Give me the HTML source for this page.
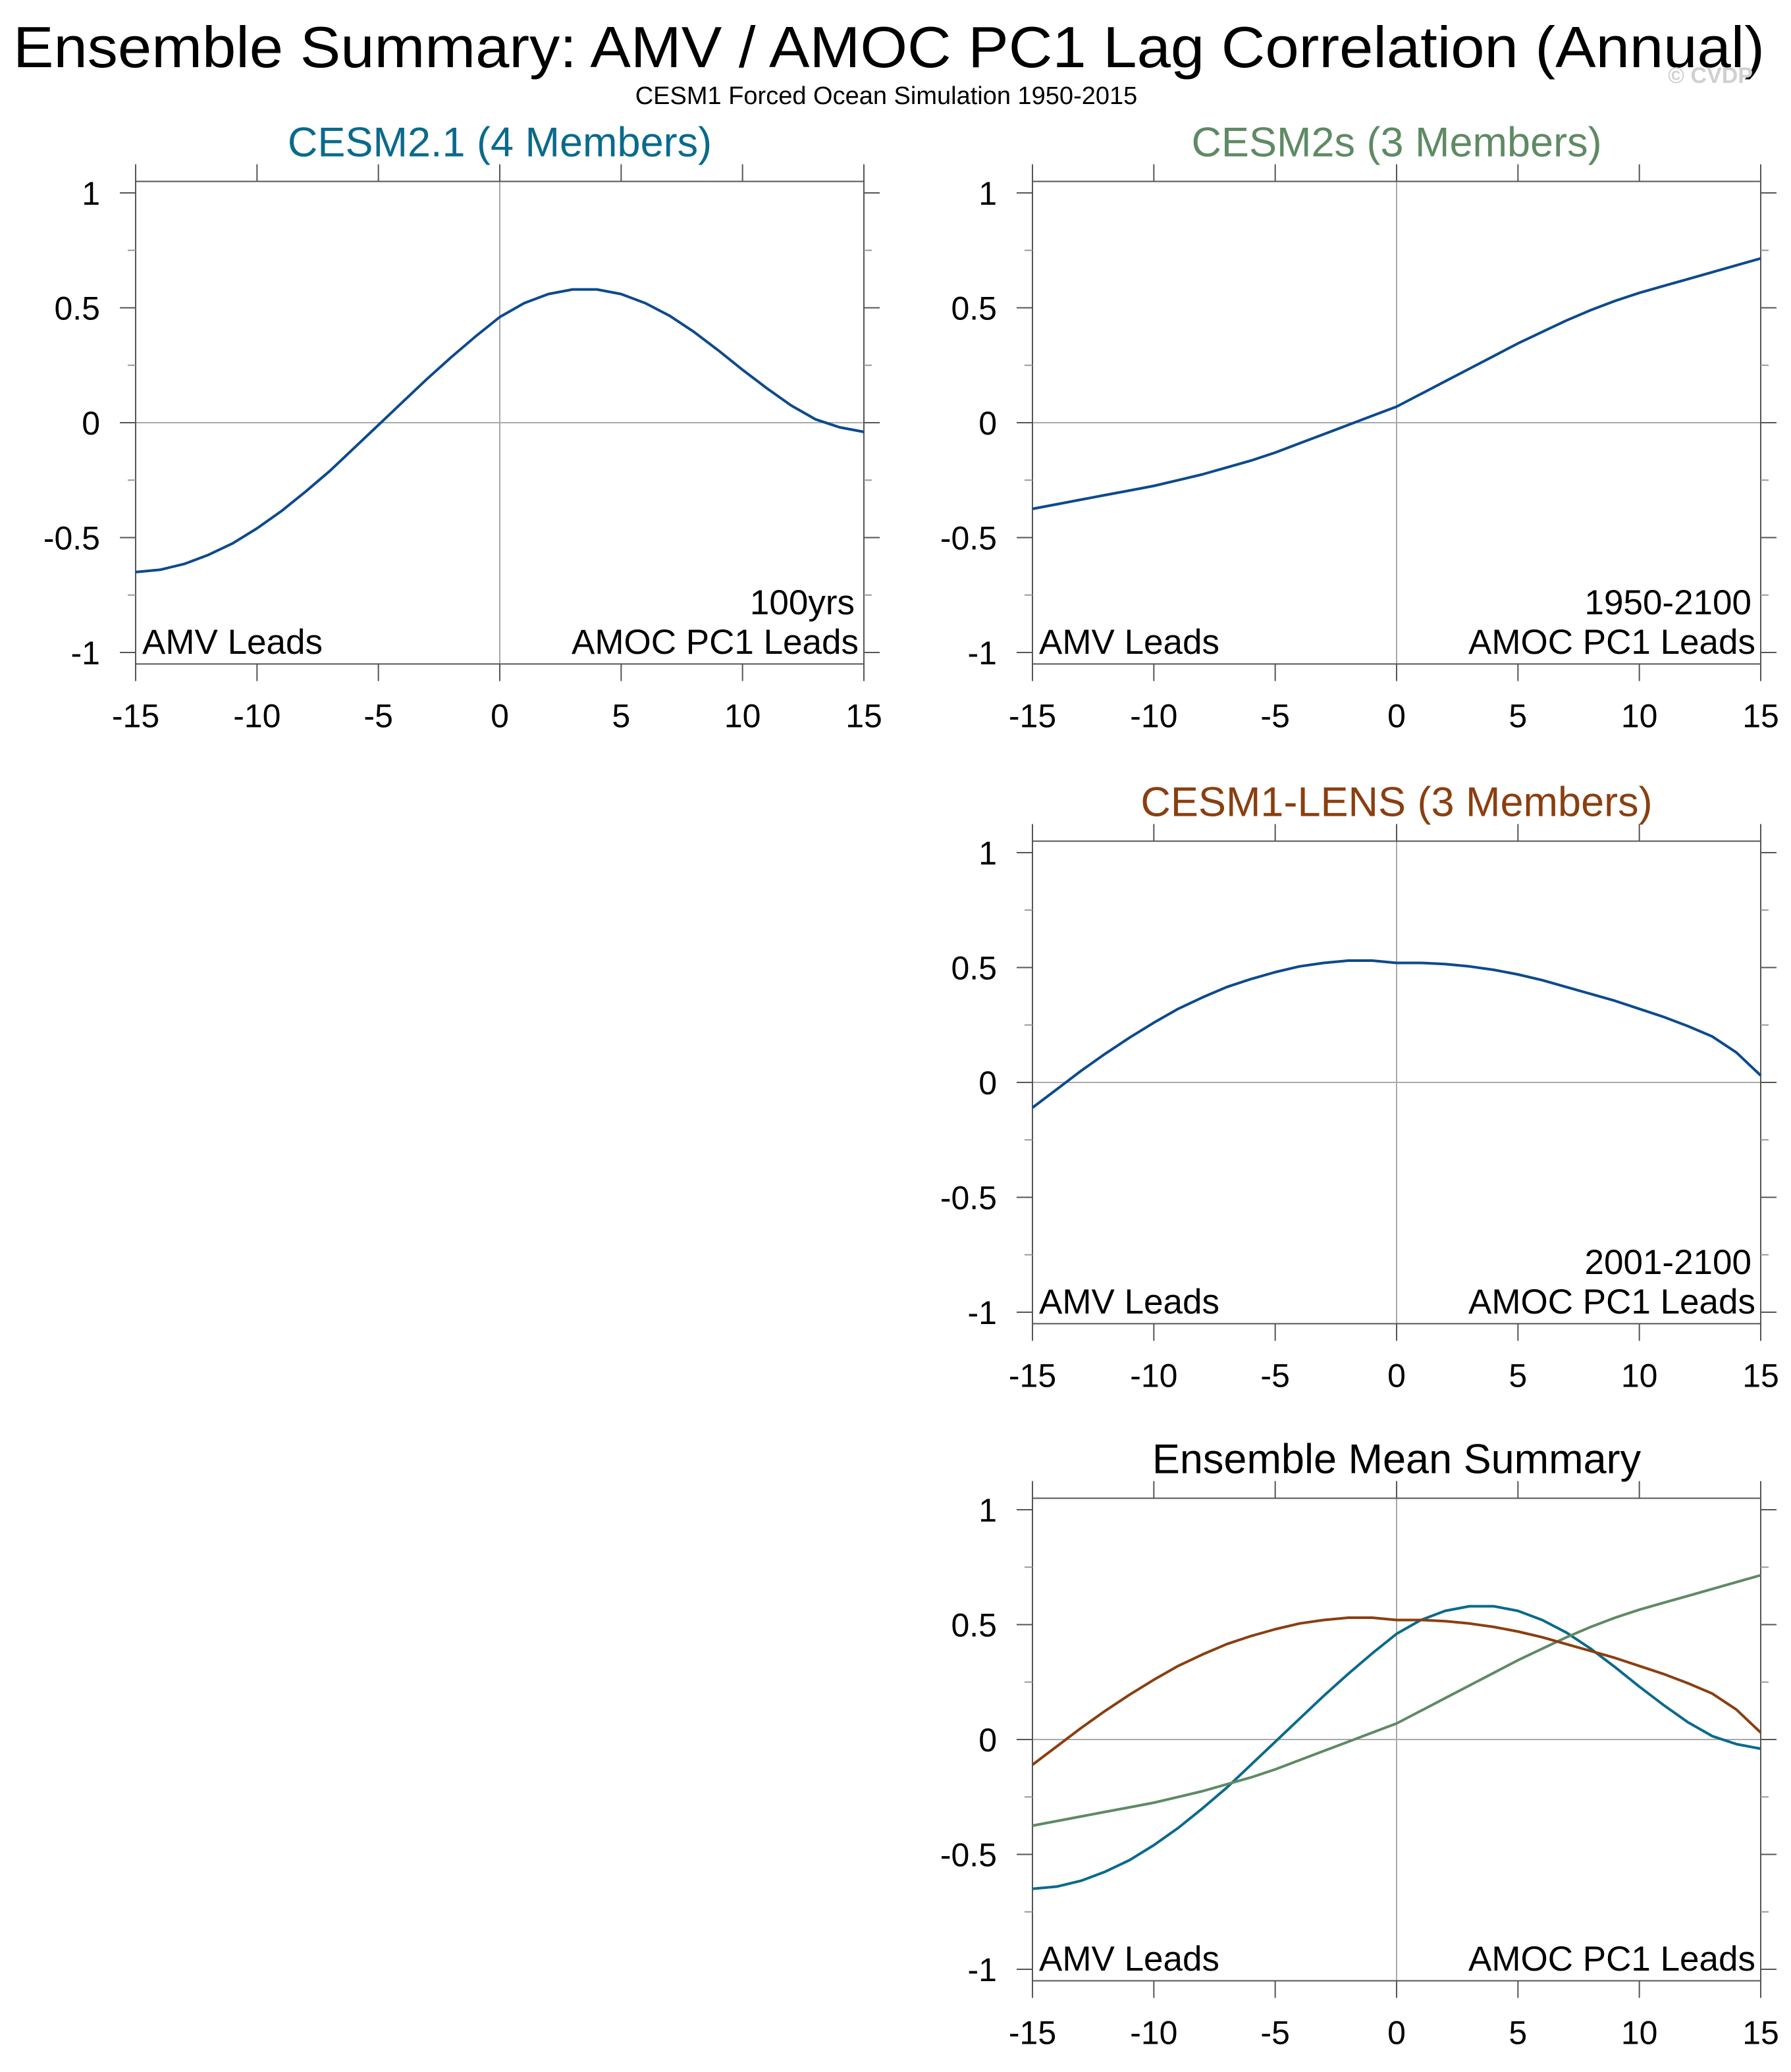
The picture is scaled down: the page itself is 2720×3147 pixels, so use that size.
<!DOCTYPE html>
<html><head><meta charset="utf-8"><style>
html,body{margin:0;padding:0;background:#fff}
svg{display:block;font-family:"Liberation Sans",sans-serif}
</style></head><body>
<svg id="chart" width="2720" height="3147" viewBox="0 0 2720 3147" xmlns="http://www.w3.org/2000/svg">
<text x="1350" y="102" font-size="88" text-anchor="middle" textLength="2660" lengthAdjust="spacingAndGlyphs">Ensemble Summary: AMV / AMOC PC1 Lag Correlation (Annual)</text>
<text x="1346" y="158" font-size="38" text-anchor="middle">CESM1 Forced Ocean Simulation 1950-2015</text>
<text x="2662" y="126" font-size="34" font-weight="bold" fill="#d0d0d0" text-anchor="end">© CVDP</text>
<g id="panels"></g>
</svg>
<script>
const lags = [-15,-14,-13,-12,-11,-10,-9,-8,-7,-6,-5,-4,-3,-2,-1,0,1,2,3,4,5,6,7,8,9,10,11,12,13,14,15];
const cesm21 = [-0.65,-0.64,-0.615,-0.575,-0.525,-0.46,-0.385,-0.30,-0.21,-0.11,-0.01,0.09,0.19,0.285,0.375,0.46,0.52,0.56,0.58,0.58,0.56,0.52,0.465,0.395,0.315,0.23,0.15,0.075,0.015,-0.02,-0.04];
const cesm2s = [-0.375,-0.355,-0.335,-0.315,-0.295,-0.275,-0.25,-0.225,-0.195,-0.165,-0.13,-0.09,-0.05,-0.01,0.03,0.07,0.125,0.18,0.235,0.29,0.345,0.395,0.445,0.49,0.53,0.565,0.595,0.625,0.655,0.685,0.715];
const lens = [-0.11,-0.03,0.05,0.125,0.195,0.26,0.32,0.37,0.415,0.45,0.48,0.505,0.52,0.53,0.53,0.52,0.52,0.515,0.505,0.49,0.47,0.445,0.415,0.385,0.355,0.32,0.285,0.245,0.20,0.13,0.03];
const xTicks = [-15,-10,-5,0,5,10,15];
const yTicks = [1,0.5,0,-0.5,-1];
const yMinor = [0.75,0.25,-0.25,-0.75];

const NS = 'http://www.w3.org/2000/svg';
const G = document.getElementById('panels');
function el(tag, attrs, parent, txt){
  const e = document.createElementNS(NS, tag);
  for (const k in attrs) e.setAttribute(k, attrs[k]);
  if (txt !== undefined) e.textContent = txt;
  (parent||G).appendChild(e);
  return e;
}
function panel(px0, py0, title, titleColor, series, yearLabel, name){
  const g = el('g', {});
  
  
  const W = 1106, U = 349;
  const sx = v => px0 + (v + 15) / 30 * W;
  const sy = v => py0 - v * U;
  const top = sy(1.05), bot = sy(-1.05);
  const t = el('text', {x: px0 + W/2, y: top - 38, 'font-size': 63, 'text-anchor': 'middle', fill: titleColor}, g, title);
  
  
  el('line', {x1: px0, x2: px0+W, y1: sy(0), y2: sy(0), stroke: '#aaa', 'stroke-width': 2}, g);
  el('line', {x1: sx(0), x2: sx(0), y1: top, y2: bot, stroke: '#aaa', 'stroke-width': 2}, g);
  const box = el('rect', {x: px0, y: top, width: W, height: bot-top, fill: 'none', stroke: '#555', 'stroke-width': 2}, g);
  
  
  xTicks.forEach(v => {
    const x = sx(v);
    el('line', {x1: x, x2: x, y1: bot, y2: bot + 26, stroke: '#555', 'stroke-width': 2}, g);
    el('line', {x1: x, x2: x, y1: top, y2: top - 26, stroke: '#555', 'stroke-width': 2}, g);
    const lb = el('text', {x: x, y: bot + 96, 'font-size': 50, 'text-anchor': 'middle'}, g, String(v));
    
    
  });
  yTicks.forEach(v => {
    const y = sy(v);
    el('line', {x1: px0 - 24, x2: px0, y1: y, y2: y, stroke: '#555', 'stroke-width': 2}, g);
    el('line', {x1: px0 + W, x2: px0 + W + 24, y1: y, y2: y, stroke: '#555', 'stroke-width': 2}, g);
    const lb = el('text', {x: px0 - 54, y: y + 18, 'font-size': 50, 'text-anchor': 'end'}, g, String(v));
    
    
  });
  yMinor.forEach(v => {
    const y = sy(v);
    el('line', {x1: px0 - 12, x2: px0, y1: y, y2: y, stroke: '#999', 'stroke-width': 2}, g);
    el('line', {x1: px0 + W, x2: px0 + W + 12, y1: y, y2: y, stroke: '#999', 'stroke-width': 2}, g);
  });
  series.forEach(s => {
    const d = lags.map((l, i) => (i ? 'L' : 'M') + sx(l).toFixed(1) + ',' + sy(s.vals[i]).toFixed(1)).join(' ');
    const p = el('path', {d: d, fill: 'none', stroke: s.color, 'stroke-width': 4, 'stroke-linejoin': 'round'}, g);
    
    
  });
  const a = el('text', {x: px0 + 10, y: sy(-1) + 2, 'font-size': 53}, g, 'AMV Leads');
  
  
  const b = el('text', {x: px0 + W - 8, y: sy(-1) + 2, 'font-size': 53, 'text-anchor': 'end'}, g, 'AMOC PC1 Leads');
  
  
  if (yearLabel) {
    const c = el('text', {x: px0 + W - 14, y: sy(-1) - 58, 'font-size': 53, 'text-anchor': 'end'}, g, yearLabel);
    
    
  }
}
const navy = '#0d4a8c';
panel(206, 642, 'CESM2.1 (4 Members)', '#0a6a8c', [{vals: cesm21, color: navy, name: 'cesm21-line'}], '100yrs', 'panel-cesm21');
panel(1568, 642, 'CESM2s (3 Members)', '#5e8a64', [{vals: cesm2s, color: navy, name: 'cesm2s-line'}], '1950-2100', 'panel-cesm2s');
panel(1568, 1644, 'CESM1-LENS (3 Members)', '#8a3f10', [{vals: lens, color: navy, name: 'lens-line'}], '2001-2100', 'panel-cesm1-lens');
panel(1568, 2642, 'Ensemble Mean Summary', '#000', [
  {vals: cesm21, color: '#0a6a8c', name: 'summary-cesm21-line'},
  {vals: cesm2s, color: '#5e8a64', name: 'summary-cesm2s-line'},
  {vals: lens, color: '#8a3f10', name: 'summary-lens-line'}
], null, 'panel-summary');
</script>
</body></html>
